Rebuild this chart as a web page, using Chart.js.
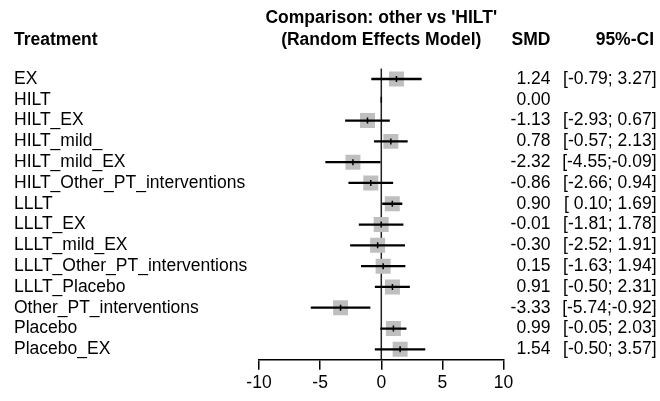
<!DOCTYPE html>
<html>
<head>
<meta charset="utf-8">
<script src="https://cdn.jsdelivr.net/npm/chart.js@4"></script>
<style>
html,body{margin:0;padding:0;background:#fff;}
#wrap{width:660px;height:401px;position:relative;}
</style>
</head>
<body>
<div id="wrap"><canvas id="c"></canvas></div>
<script>
const treatments = ["EX","HILT","HILT_EX","HILT_mild_","HILT_mild_EX","HILT_Other_PT_interventions","LLLT","LLLT_EX","LLLT_mild_EX","LLLT_Other_PT_interventions","LLLT_Placebo","Other_PT_interventions","Placebo","Placebo_EX"];
const smd = [1.24,0.00,-1.13,0.78,-2.32,-0.86,0.90,-0.01,-0.30,0.15,0.91,-3.33,0.99,1.54];
const ciLower = [-0.79,null,-2.93,-0.57,-4.55,-2.66,0.10,-1.81,-2.52,-1.63,-0.50,-5.74,-0.05,-0.50];
const ciUpper = [3.27,null,0.67,2.13,-0.09,0.94,1.69,1.78,1.91,1.94,2.31,-0.92,2.03,3.57];
const xTicks = [-10,-5,0,5,10];
const titleLines = ["Comparison: other vs 'HILT'","(Random Effects Model)"];
const headers = {treatment:"Treatment", smd:"SMD", ci:"95%-CI"};

const FONT = '"Liberation Sans", Arial, Helvetica, sans-serif';
const FS = 17.5;
Chart.defaults.font.family = FONT;
Chart.defaults.font.size = FS;
Chart.defaults.color = '#000';

function pad(v){ const s = v.toFixed(2); return v >= 0 ? ' ' + s : s; }
function ciText(i){ return ciLower[i] === null ? '' : '[' + pad(ciLower[i]) + ';' + pad(ciUpper[i]) + ']'; }

const textPlugin = {
  id: 'forestText',
  beforeDatasetsDraw(chart){
    const ctx = chart.ctx, xs = chart.scales.x, a = chart.chartArea;
    const x0 = xs.getPixelForValue(0);
    ctx.save();
    ctx.strokeStyle = '#222';
    ctx.lineWidth = 1.5;
    ctx.beginPath();
    ctx.moveTo(x0, a.top);
    ctx.lineTo(x0, a.bottom);
    ctx.stroke();
    ctx.restore();
  },
  afterDraw(chart){
    const ctx = chart.ctx, xs = chart.scales.x, ys = chart.scales.y;
    const x0 = xs.getPixelForValue(0);
    ctx.save();
    ctx.fillStyle = '#000';
    ctx.textBaseline = 'middle';
    ctx.font = 'bold ' + FS + 'px ' + FONT;
    ctx.textAlign = 'left';
    ctx.fillText(headers.treatment, 14, 40);
    ctx.textAlign = 'center';
    ctx.fillText(titleLines[0], x0, 18);
    ctx.fillText(titleLines[1], x0, 40);
    ctx.textAlign = 'right';
    ctx.fillText(headers.smd, 550.5, 40);
    ctx.fillText(headers.ci, 654, 40);
    ctx.font = FS + 'px ' + FONT;
    treatments.forEach((t, i) => {
      const y = ys.getPixelForValue(i);
      ctx.textAlign = 'left';
      ctx.fillText(t, 14, y);
      ctx.textAlign = 'right';
      ctx.fillText(smd[i].toFixed(2), 550.5, y);
      ctx.fillText(ciText(i), 656.5, y);
    });
    ctx.restore();
  }
};

new Chart(document.getElementById('c'), {
  type: 'bar',
  data: {
    labels: treatments,
    datasets: [
      {
        type: 'scatter',
        label: 'tick',
        data: treatments.map((t, i) => ({x: smd[i], y: t})),
        pointStyle: 'line',
        rotation: 90,
        pointRadius: 3,
        pointBorderWidth: 1.5,
        borderColor: '#000',
        backgroundColor: '#000',
        order: 1
      },
      {
        type: 'bar',
        label: 'ci',
        data: treatments.map((t, i) => ciLower[i] === null ? null : [ciLower[i], ciUpper[i]]),
        backgroundColor: '#000',
        borderWidth: 0,
        barThickness: 1.6,
        order: 2
      },
      {
        type: 'scatter',
        label: 'square',
        data: treatments.map((t, i) => ({x: ciLower[i] === null ? null : smd[i], y: t})),
        pointStyle: 'rect',
        pointRadius: 10.6,
        pointBorderWidth: 0,
        backgroundColor: '#bfbfbf',
        borderColor: '#bfbfbf',
        order: 3
      }
    ]
  },
  options: {
    indexAxis: 'y',
    responsive: true,
    maintainAspectRatio: false,
    animation: false,
    events: [],
    layout: { padding: { left: 259, right: 156.4, top: 68.6, bottom: 5.3 } },
    plugins: { legend: { display: false }, tooltip: { enabled: false } },
    scales: {
      x: {
        type: 'linear',
        min: -10, max: 10,
        afterBuildTicks(scale){ scale.ticks = xTicks.map(v => ({value: v})); },
        afterFit(scale){ scale.height = 36; },
        grid: { display: true, drawOnChartArea: false, drawTicks: true, tickLength: 10, color: '#000', lineWidth: 1.5 },
        border: { display: true, color: '#000', width: 1.5 },
        ticks: { padding: 3, color: '#000', font: { size: FS }, maxRotation: 0 }
      },
      y: {
        type: 'category',
        display: false,
        offset: true
      }
    }
  },
  plugins: [textPlugin]
});
</script>
</body>
</html>
